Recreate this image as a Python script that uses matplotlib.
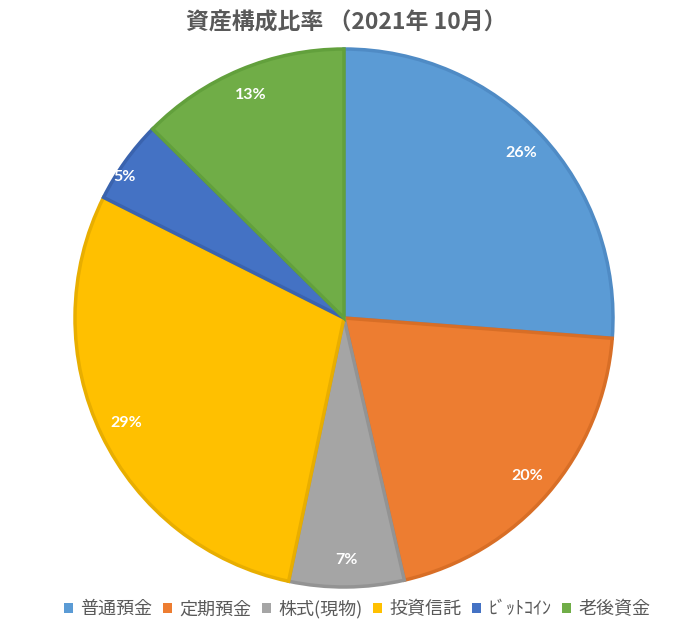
import matplotlib.pyplot as plt
import numpy as np

plt.rcParams['font.family'] = ['Noto Sans CJK JP', 'DejaVu Sans']

labels = ['普通預金', '定期預金', '株式(現物)', '投資信託', 'ﾋﾞｯﾄｺｲﾝ', '老後資金']
values = [26.2, 20.2, 6.9, 29.1, 5.0, 12.6]
colors = ['#5B9BD5', '#ED7D31', '#A5A5A5', '#FFC000', '#4472C4', '#70AD47']
edges = ['#4F8BC5', '#D86E26', '#939393', '#E8AE00', '#3A63AE', '#62A03C']

fig = plt.figure(figsize=(6.92, 6.42), dpi=100)
r = 269
ax = fig.add_axes([(344 - r) / 692, (642 - 318 - r) / 642, 2 * r / 692, 2 * r / 642])

wedges, texts, autotexts = ax.pie(values, colors=colors, startangle=90, counterclock=False,
                                  radius=1, autopct='%.0f%%', pctdistance=0.9,
                                  wedgeprops=dict(linewidth=2.5),
                                  textprops=dict(color='white', fontweight='bold',
                                                 fontsize=11.5, family=['Lato', 'DejaVu Sans']))
for w, ec in zip(wedges, edges):
    w.set_edgecolor(ec)

# 5% label sits closer to the rim in the original
w = wedges[4]
ang = np.deg2rad((w.theta1 + w.theta2) / 2 + 3)
autotexts[4].set_position((0.97 * np.cos(ang), 0.97 * np.sin(ang)))

ax.set_xlim(-1, 1)
ax.set_ylim(-1, 1)
ax.set_aspect('equal')
ax.axis('off')

fig.text(0.5, 1 - 23 / 642, '資産構成比率 （2021年 10月）', ha='center', va='center',
         fontsize=16.5, fontweight='bold', color='#595959')

leg = fig.legend(wedges, labels, loc='center', bbox_to_anchor=(357 / 692, 1 - 609 / 642), ncol=6,
                 frameon=False, fontsize=13, labelcolor='#595959', handlelength=0.5,
                 handleheight=0.5, handletextpad=0.4, columnspacing=0.6)
for h in leg.legend_handles:
    h.set_linewidth(0)

fig.savefig('out.png', dpi=100, facecolor='white')
